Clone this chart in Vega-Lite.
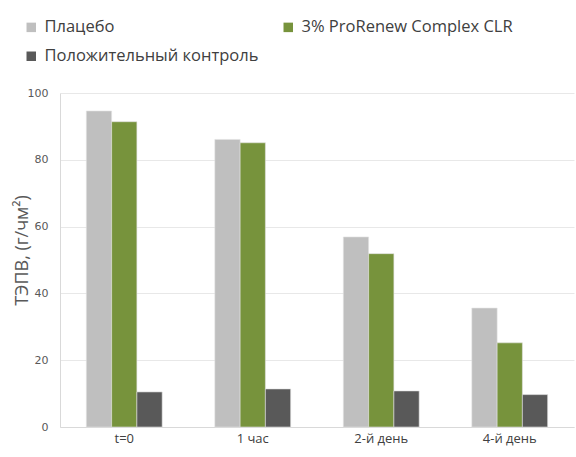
{
  "$schema": "https://vega.github.io/schema/vega-lite/v6.json",
  "width": 514,
  "height": 334,
  "autosize": "none",
  "padding": {"left": 60, "top": 93, "right": 2, "bottom": 30},
  "background": "white",
  "data": {
    "values": [
      {"time": "t=0", "series": "Плацебо", "value": 94.6},
      {"time": "t=0", "series": "3% ProRenew Complex CLR", "value": 91.4},
      {"time": "t=0", "series": "Положительный контроль", "value": 10.5},
      {"time": "1 час", "series": "Плацебо", "value": 86.1},
      {"time": "1 час", "series": "3% ProRenew Complex CLR", "value": 85.1},
      {"time": "1 час", "series": "Положительный контроль", "value": 11.4},
      {"time": "2-й день", "series": "Плацебо", "value": 56.9},
      {"time": "2-й день", "series": "3% ProRenew Complex CLR", "value": 51.9},
      {"time": "2-й день", "series": "Положительный контроль", "value": 10.8},
      {"time": "4-й день", "series": "Плацебо", "value": 35.6},
      {"time": "4-й день", "series": "3% ProRenew Complex CLR", "value": 25.2},
      {"time": "4-й день", "series": "Положительный контроль", "value": 9.7}
    ]
  },
  "config": {
    "view": {"stroke": null},
    "axis": {"domain": false}
  },
  "mark": {"type": "bar", "stroke": "#e0e0e0", "strokeWidth": 0.6},
  "encoding": {
    "x": {
      "field": "time",
      "type": "nominal",
      "sort": ["t=0", "1 час", "2-й день", "4-й день"],
      "scale": {"paddingInner": 0.41, "paddingOuter": 0.205},
      "axis": {
        "title": null,
        "labelAngle": 0,
        "labelFont": "Open Sans",
        "labelFontSize": 13,
        "labelColor": "#404040",
        "labelPadding": 5,
        "ticks": false,
        "domain": true,
        "domainColor": "#d9d9d9",
        "grid": false
      }
    },
    "xOffset": {
      "field": "series",
      "type": "nominal",
      "sort": ["Плацебо", "3% ProRenew Complex CLR", "Положительный контроль"],
      "scale": {"paddingInner": 0, "paddingOuter": 0}
    },
    "y": {
      "field": "value",
      "type": "quantitative",
      "scale": {"domain": [0, 100], "nice": false},
      "axis": {
        "title": "ТЭПВ, (г/чм²)",
        "titleFont": "Open Sans",
        "titleFontSize": 18,
        "titleFontWeight": "normal",
        "titleColor": "#595959",
        "titleX": -38,
        "titleY": 157,
        "titleAngle": 270,
        "titleAlign": "center",
        "titleBaseline": "middle",
        "values": [0, 20, 40, 60, 80, 100],
        "labelFont": "DejaVu Sans",
        "labelFontSize": 11,
        "labelColor": "#595959",
        "labelPadding": 12,
        "ticks": false,
        "domain": true,
        "domainColor": "#d9d9d9",
        "grid": true,
        "gridColor": "#e8e8e8",
        "gridWidth": 1
      }
    },
    "color": {
      "field": "series",
      "type": "nominal",
      "sort": ["Плацебо", "3% ProRenew Complex CLR", "Положительный контроль"],
      "scale": {
        "domain": ["Плацебо", "3% ProRenew Complex CLR", "Положительный контроль"],
        "range": ["#bfbfbf", "#77933c", "#595959"]
      },
      "legend": {
        "title": null,
        "orient": "none",
        "legendX": -37,
        "legendY": -74,
        "columns": 2,
        "direction": "horizontal",
        "symbolType": "square",
        "symbolSize": 90,
        "symbolStrokeWidth": 0,
        "labelFont": "Open Sans",
        "labelFontSize": 16.5,
        "labelColor": "#404040",
        "labelLimit": 400,
        "labelOffset": 5,
        "columnPadding": 21,
        "rowPadding": 12
      }
    }
  }
}
